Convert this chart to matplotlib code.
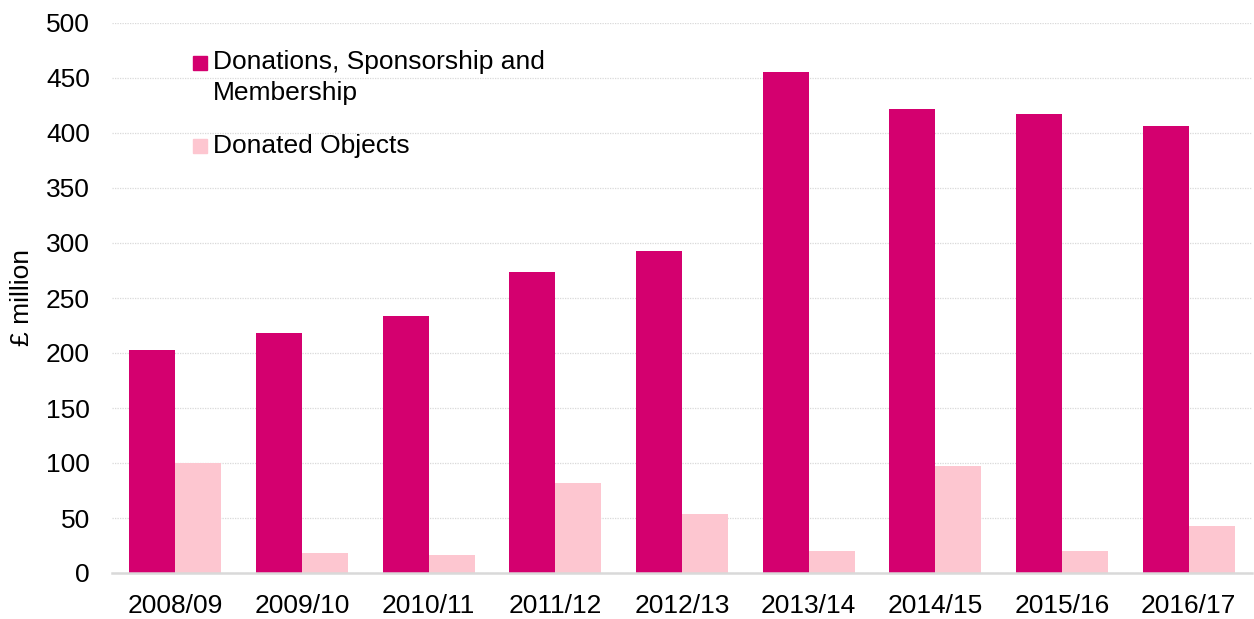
import matplotlib
matplotlib.use("Agg")
import matplotlib.pyplot as plt
from matplotlib.patches import Rectangle

years = ["2008/09", "2009/10", "2010/11", "2011/12", "2012/13",
         "2013/14", "2014/15", "2015/16", "2016/17"]
donations = [203, 218, 234, 274, 293, 455, 422, 417, 406]
objects = [100, 18, 16, 82, 54, 20, 97, 20, 43]

dark = "#D4006F"
light = "#FDC6D0"

plt.rcParams["font.family"] = ["Liberation Sans", "DejaVu Sans"]
FS = 19

W, H = 1254, 619
fig = plt.figure(figsize=(W / 100, H / 100), dpi=100)
ax = fig.add_axes([112 / W, 1 - 573 / H, (1252 - 112) / W, 550 / H])

x = list(range(len(years)))
bw = 0.363
ax.bar([i - bw / 2 for i in x], donations, width=bw, color=dark, zorder=3)
ax.bar([i + bw / 2 for i in x], objects, width=bw, color=light, zorder=3)

ax.set_xlim(-0.5, len(years) - 0.5)
ax.set_ylim(0, 500)
ax.set_yticks(range(0, 501, 50))
ax.set_xticks(x)
ax.set_xticklabels(years)
ax.tick_params(axis="both", length=0, labelsize=FS)
ax.tick_params(axis="y", pad=16)
ax.tick_params(axis="x", pad=15)
ax.grid(axis="y", color="#D9D9D9", linestyle=(0, (1, 1)), linewidth=0.9, zorder=0)
for s in ["top", "right", "left"]:
    ax.spines[s].set_visible(False)
ax.spines["bottom"].set_color("#D9D9D9")
ax.spines["bottom"].set_linewidth(1.8)
ax.spines["bottom"].set_zorder(4)

fig.text(22 / W, 1 - 298 / H, "£ million", rotation=90, ha="center", va="center", fontsize=FS)

# legend
sq = 14
fig.patches.append(Rectangle((193 / W, 1 - 70 / H), sq / W, sq / H,
                             transform=fig.transFigure, color=dark))
fig.text(213 / W, 1 - 62 / H, "Donations, Sponsorship and", ha="left", va="center", fontsize=FS)
fig.text(213 / W, 1 - 93 / H, "Membership", ha="left", va="center", fontsize=FS)
fig.patches.append(Rectangle((193 / W, 1 - 153 / H), sq / W, sq / H,
                             transform=fig.transFigure, color=light))
fig.text(213 / W, 1 - 146 / H, "Donated Objects", ha="left", va="center", fontsize=FS)

fig.savefig("out.png", dpi=100)
